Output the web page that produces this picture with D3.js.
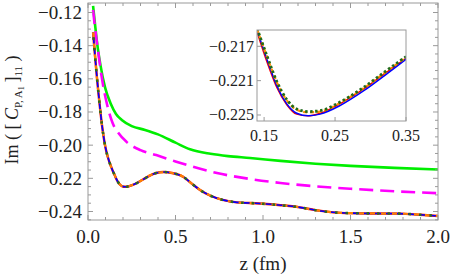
<!DOCTYPE html>
<html><head><meta charset="utf-8">
<script src="https://cdn.jsdelivr.net/npm/d3@7"></script>
<style>body{margin:0;background:#fff}svg{display:block}</style>
</head><body><svg id="c" width="452" height="279" font-family="Liberation Serif, Times New Roman, Times, DejaVu Serif, serif"></svg>
<script>
// ---- main data ----
const greenZ = [0.029,0.04,0.05,0.07,0.097,0.13,0.16,0.193,0.25,0.326,0.4,0.5,0.583,0.7,0.8,0.926,1.1,1.3,1.5,1.75,2.0];
const greenV = [-0.116,-0.127,-0.1366,-0.151,-0.165,-0.175,-0.1812,-0.1848,-0.1885,-0.1908,-0.1935,-0.1985,-0.2025,-0.2052,-0.2066,-0.2077,-0.2095,-0.2112,-0.2125,-0.2137,-0.2147];
const magentaZ = [0.029,0.04,0.059,0.08,0.107,0.14,0.174,0.22,0.3,0.39,0.5,0.6,0.737,0.926,1.1,1.3,1.5,1.75,2.0];
const magentaV = [-0.1185,-0.129,-0.1444,-0.16,-0.1746,-0.1865,-0.1927,-0.198,-0.203,-0.206,-0.2098,-0.213,-0.2168,-0.2204,-0.2228,-0.2248,-0.2263,-0.2278,-0.229];
const latZ = [0.029,0.04,0.05,0.06,0.07,0.08,0.09,0.10,0.12,0.14,0.154,0.168,0.182,0.196,0.212,0.229,0.257,0.29,0.323,0.35,0.39,0.43,0.48,0.543,0.6,0.64,0.7,0.77,0.85,0.926,1.02,1.1,1.21,1.3,1.4,1.5,1.65,1.78,1.9,2.0];
const latV = [-0.132,-0.146,-0.158,-0.169,-0.179,-0.188,-0.1955,-0.2015,-0.2095,-0.2151,-0.2185,-0.2216,-0.2237,-0.2248,-0.2251,-0.2249,-0.2239,-0.2222,-0.2202,-0.2185,-0.2168,-0.2162,-0.2168,-0.219,-0.2238,-0.227,-0.2305,-0.233,-0.2345,-0.2349,-0.2355,-0.2362,-0.2375,-0.2392,-0.2405,-0.241,-0.2412,-0.2413,-0.242,-0.2427];
// ---- inset data ----
const insetZ = [0.14,0.154,0.168,0.182,0.196,0.212,0.229,0.257,0.29,0.323,0.35];
const insetBlue = [-0.2151,-0.2185,-0.2216,-0.2237,-0.2248,-0.2251,-0.2249,-0.2239,-0.2222,-0.2202,-0.2185];
const insetRed = [-0.2153,-0.2188,-0.2218,-0.2238,-0.2249,-0.2251,-0.2248,-0.2237,-0.2220,-0.2200,-0.2184];
const insetOrange = [-0.2150,-0.2182,-0.2212,-0.2233,-0.2244,-0.2247,-0.2246,-0.2236,-0.2219,-0.2199,-0.2183];
const insetGreen = [-0.2149,-0.2181,-0.2211,-0.2232,-0.2243,-0.2246,-0.2245,-0.2235,-0.2218,-0.2198,-0.2182];
// ---- ticks ----
const xTicks = [0,0.5,1.0,1.5,2.0];
const xTickLabels = ["0.0","0.5","1.0","1.5","2.0"];
const yTicks = [-0.24,-0.22,-0.20,-0.18,-0.16,-0.14,-0.12];
const yTickLabels = ["\u22120.24","\u22120.22","\u22120.20","\u22120.18","\u22120.16","\u22120.14","\u22120.12"];
const insetXTicks = [0.15,0.25,0.35];
const insetXLabels = ["0.15","0.25","0.35"];
const insetYTicks = [-0.225,-0.221,-0.217];
const insetYLabels = ["\u22120.225","\u22120.221","\u22120.217"];

const svg = d3.select("#c");
const L=88,R=438,T=3,B=220;
const x = d3.scaleLinear().domain([0,2]).range([L,R]);
const y = d3.scaleLinear().domain([-0.24513,-0.11427]).range([B,T]);
const frameCol="#9a9a9a", txtCol="#222";

svg.append("clipPath").attr("id","mc").append("rect").attr("x",L).attr("y",T).attr("width",R-L).attr("height",B-T);
const g = svg.append("g").attr("clip-path","url(#mc)");
const line = (zs,vs,xs,ys)=>d3.line().curve(d3.curveMonotoneX).x(i=>xs(zs[i])).y(i=>ys(vs[i]))(d3.range(zs.length));

g.append("path").attr("d",line(greenZ,greenV,x,y)).attr("fill","none").attr("stroke","#00ee00").attr("stroke-width",2.6);
g.append("path").attr("d",line(magentaZ,magentaV,x,y)).attr("fill","none").attr("stroke","#ff00ff").attr("stroke-width",2.6).attr("stroke-dasharray","14,7");
g.append("path").attr("d",line(latZ,latV,x,y)).attr("fill","none").attr("stroke","#ff1a00").attr("stroke-width",2.4);
g.append("path").attr("d",line(latZ,latV,x,y)).attr("fill","none").attr("stroke","#0000ff").attr("stroke-width",1.6);
g.append("path").attr("d",line(latZ,latV,x,y)).attr("fill","none").attr("stroke","#ff8000").attr("stroke-width",2.2).attr("stroke-dasharray","5,6");
g.append("path").attr("d",line(latZ,latV,x,y)).attr("fill","none").attr("stroke","#2e6b1e").attr("stroke-width",2.6).attr("stroke-dasharray","2.5,8").attr("stroke-dashoffset",-5);

// frame
svg.append("rect").attr("x",L).attr("y",T).attr("width",R-L).attr("height",B-T).attr("fill","none").attr("stroke",frameCol).attr("stroke-width",1);
const tk = svg.append("g").attr("stroke",frameCol).attr("stroke-width",1);
d3.range(0,2.0001,0.1).forEach(v=>{
  const major = Math.abs(v*2-Math.round(v*2))<1e-6; const len = major?5:3;
  tk.append("line").attr("x1",x(v)).attr("x2",x(v)).attr("y1",B).attr("y2",B-len);
  tk.append("line").attr("x1",x(v)).attr("x2",x(v)).attr("y1",T).attr("y2",T+len);
});
d3.range(-0.245,-0.1149,0.005).forEach(v=>{
  const major = Math.abs(v*50-Math.round(v*50))<1e-6; const len = major?5:3;
  tk.append("line").attr("x1",L).attr("x2",L+len).attr("y1",y(v)).attr("y2",y(v));
  tk.append("line").attr("x1",R).attr("x2",R-len).attr("y1",y(v)).attr("y2",y(v));
});
xTicks.forEach((v,i)=>svg.append("text").attr("fill",txtCol).attr("x",x(v)).attr("y",243).attr("text-anchor","middle").attr("font-size",19).text(xTickLabels[i]));
yTicks.forEach((v,i)=>svg.append("text").attr("fill",txtCol).attr("x",82).attr("y",y(v)).attr("dy","0.34em").attr("text-anchor","end").attr("font-size",19).text(yTickLabels[i]));
svg.append("text").attr("fill",txtCol).attr("x",(L+R)/2).attr("y",270).attr("text-anchor","middle").attr("font-size",19).text("z (fm)");
// y label
const yl = svg.append("text").attr("fill",txtCol).attr("transform","translate(18,110) rotate(-90)").attr("text-anchor","middle").attr("font-size",18);
yl.append("tspan").text("Im ( [\u2009");
yl.append("tspan").attr("font-style","italic").text("C");
yl.append("tspan").attr("font-size",11).attr("dy",4).text("P, A");
yl.append("tspan").attr("font-size",8).attr("dy",2).text("1");
yl.append("tspan").attr("dy",-6).text("\u2009]");
yl.append("tspan").attr("font-size",11).attr("dy",4).text("11");
yl.append("tspan").attr("dy",-4).text(" )");

// ---- inset ----
const IL=257,IR=406,IT=30,IB=121;
const xi = d3.scaleLinear().domain([0.14,0.35]).range([IL,IR]);
const yi = d3.scaleLinear().domain([-0.2257,-0.2151]).range([IB,IT]);
svg.append("rect").attr("x",IL).attr("y",IT).attr("width",IR-IL).attr("height",IB-IT).attr("fill","#fff");
svg.append("clipPath").attr("id","ic").append("rect").attr("x",IL).attr("y",IT).attr("width",IR-IL).attr("height",IB-IT);
const gi = svg.append("g").attr("clip-path","url(#ic)");
gi.append("path").attr("d",line(insetZ,insetRed,xi,yi)).attr("fill","none").attr("stroke","#ff0000").attr("stroke-width",1.5);
gi.append("path").attr("d",line(insetZ,insetBlue,xi,yi)).attr("fill","none").attr("stroke","#0000ff").attr("stroke-width",1.5);
gi.append("path").attr("d",line(insetZ,insetOrange,xi,yi)).attr("fill","none").attr("stroke","#ff8c00").attr("stroke-width",2.2).attr("stroke-dasharray","4,3");
gi.append("path").attr("d",line(insetZ,insetGreen,xi,yi)).attr("fill","none").attr("stroke","#1f6b1a").attr("stroke-width",2.8).attr("stroke-dasharray","2.5,2.5");
svg.append("rect").attr("x",IL).attr("y",IT).attr("width",IR-IL).attr("height",IB-IT).attr("fill","none").attr("stroke",frameCol).attr("stroke-width",1);
const ti = svg.append("g").attr("stroke",frameCol);
insetXTicks.forEach(v=>ti.append("line").attr("x1",xi(v)).attr("x2",xi(v)).attr("y1",IB).attr("y2",IB-4));
insetYTicks.forEach(v=>ti.append("line").attr("x1",IL).attr("x2",IL+4).attr("y1",yi(v)).attr("y2",yi(v)));
insetXTicks.forEach((v,i)=>svg.append("text").attr("fill",txtCol).attr("x",xi(v)).attr("y",141).attr("text-anchor","middle").attr("font-size",16).text(insetXLabels[i]));
insetYTicks.forEach((v,i)=>svg.append("text").attr("fill",txtCol).attr("x",254).attr("y",yi(v)).attr("dy","0.34em").attr("text-anchor","end").attr("font-size",16).text(insetYLabels[i]));
</script></body></html>
